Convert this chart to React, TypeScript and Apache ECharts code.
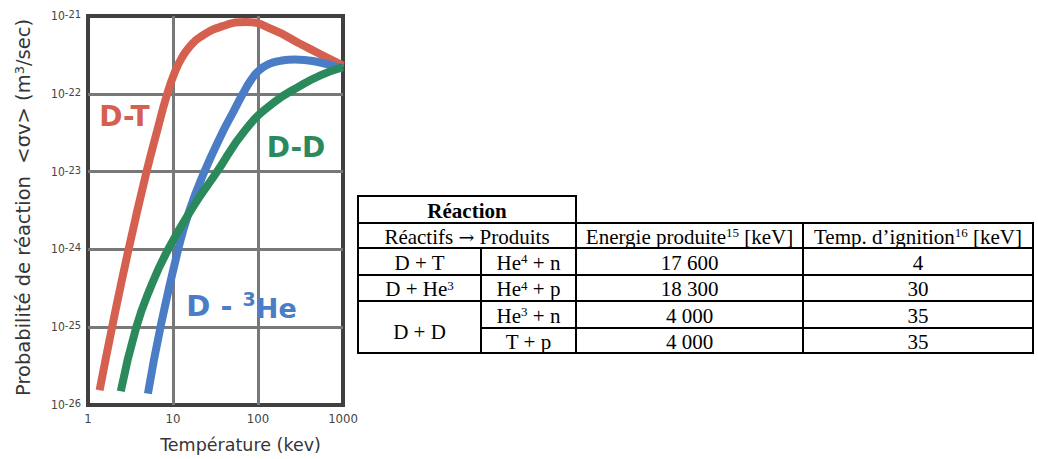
import React, { useEffect, useRef } from 'react';
import * as echarts from 'echarts';

// ---- Data ----
const dtX = [1.37, 1.92, 3.0, 4.81, 6.58, 8.55, 10.6, 12.8, 15.9, 21, 38.3, 72, 153, 312, 550, 1000];
const dtY = [1.55e-26, 1.0e-25, 1.0e-24, 9.3e-24, 3.5e-23, 1.0e-22, 1.95e-22, 2.95e-22, 4.1e-22, 5.4e-22, 7.4e-22, 8.4e-22, 6.6e-22, 4.4e-22, 3.2e-22, 2.3e-22];

const dheX = [5.07, 7.12, 11.5, 15.5, 22.8, 38.3, 51.8, 66.3, 82.6, 103, 133, 182, 270, 478, 1000];
const dheY = [1.4e-26, 1.0e-25, 1.0e-24, 3.1e-24, 9.3e-24, 3.2e-23, 6.0e-23, 1.0e-22, 1.5e-22, 2.0e-22, 2.4e-22, 2.65e-22, 2.77e-22, 2.6e-22, 2.1e-22];

const ddX = [2.43, 3.7, 5.48, 8.77, 18.3, 31.6, 72, 153, 312, 550, 1000];
const ddY = [1.5e-26, 1.0e-25, 3.3e-25, 1.0e-24, 3.9e-24, 9.3e-24, 3.5e-23, 7.7e-23, 1.26e-22, 1.74e-22, 2.2e-22];

const xMin = 1;
const xMax = 1000;
const yMin = 1e-26;
const yMax = 1e-21;

const curveLabels = [
  { text: 'D-T', x: 2.69, y: 5.1e-23, color: '#d6604f' },
  { text: 'D-D', x: 280, y: 2.04e-23, color: '#2a8a5c' },
  { text: '{a|D - }{s|3}{h|He}', x: 64, y: 1.9e-25, color: '#4a7dc6' },
];

// Table content
const headReaction = 'Réaction';
const headReactProd = 'Réactifs {arr|→} Produits';
const headEnergie = 'Energie produite{s|15} [keV]';
const headIgnition = 'Temp. d’ignition{s|16} [keV]';
const reactifs = ['D + T', 'D + He{s|3}', 'D + D'];
const produits = ['He{s|4} + n', 'He{s|4} + p', 'He{s|3} + n', 'T + p'];
const energie = ['17 600', '18 300', '4 000', '4 000'];
const ignition = ['4', '30', '35', '35'];

const RED = '#d6604f';
const BLUE = '#4a7dc6';
const GREEN = '#2a8a5c';

// ECharts rounds to 20 decimals, so the y values are plotted in units of 1e-26
const Y_UNIT = 1e-26;
const Y_UNIT_EXP = -26;

function zip(xs: number[], ys: number[]) {
  return xs.map((x, i) => [x, ys[i] / Y_UNIT]);
}

function buildTable() {
  const L = 358, C1 = 481, C2 = 576, C3 = 803, R = 1033;
  const Y = [196, 223, 248, 275, 301, 328, 353];
  const els: any[] = [];
  const line = (x1: number, y1: number, x2: number, y2: number) =>
    els.push({ type: 'line', shape: { x1, y1, x2, y2 }, style: { stroke: '#000', lineWidth: 2 }, z: 10 });
  line(L - 1, Y[0], C2 + 1, Y[0]);
  for (let i = 1; i <= 4; i++) line(L - 1, Y[i], R + 1, Y[i]);
  line(C1, Y[5], R + 1, Y[5]);
  line(L - 1, Y[6], R + 1, Y[6]);
  line(L, Y[0], L, Y[6]);
  line(C2, Y[0], C2, Y[6]);
  line(R, Y[1], R, Y[6]);
  line(C3, Y[1], C3, Y[6]);
  line(C1, Y[2], C1, Y[6]);

  const FONT = 'Liberation Serif';
  const rich = {
    s: { fontSize: 13, verticalAlign: 'top', lineHeight: 13, fontFamily: FONT },
    arr: { fontSize: 19, fontFamily: 'DejaVu Serif', lineHeight: 22 },
  };
  const txt = (text: string, x: number, y: number, bold = false) =>
    els.push({
      type: 'text', x, y, z: 11,
      style: {
        text, fontSize: 21, fontFamily: FONT, fontWeight: bold ? 'bold' : 'normal',
        fill: '#000', align: 'center', verticalAlign: 'middle', rich,
      },
    });
  const mid = (a: number, b: number) => (a + b) / 2;
  txt(headReaction, mid(L, C2), mid(Y[0], Y[1]) + 1, true);
  txt(headReactProd, mid(L, C2), mid(Y[1], Y[2]) + 1);
  txt(headEnergie, mid(C2, C3), mid(Y[1], Y[2]) + 1);
  txt(headIgnition, mid(C3, R), mid(Y[1], Y[2]) + 1);
  txt(reactifs[0], mid(L, C1), mid(Y[2], Y[3]) + 1);
  txt(reactifs[1], mid(L, C1), mid(Y[3], Y[4]) + 1);
  txt(reactifs[2], mid(L, C1), mid(Y[4], Y[6]) + 5);
  for (let i = 0; i < 4; i++) {
    const yc = mid(Y[2 + i], Y[3 + i]) + 1;
    txt(produits[i], mid(C1, C2), yc);
    txt(energie[i], mid(C2, C3), yc);
    txt(ignition[i], mid(C3, R), yc);
  }
  return els;
}

export default function App() {
  const ref = useRef<HTMLDivElement>(null);
  useEffect(() => {
    if (!ref.current) return;
    const chart = echarts.init(ref.current, null, { renderer: 'svg' });
    const TXT = '#353535';
    const option: any = {
      animation: false,
      backgroundColor: '#ffffff',
      grid: {
        left: 88, top: 16, width: 255, height: 396,
        show: true, borderColor: '#404040', borderWidth: 4, backgroundColor: 'transparent',
      },
      xAxis: {
        type: 'log', logBase: 10, min: xMin, max: xMax,
        axisLine: { show: false }, axisTick: { show: false },
        splitLine: { show: true, showMinLine: false, showMaxLine: false, lineStyle: { color: '#787878', width: 3 } },
        axisLabel: { color: '#444', fontSize: 13, fontFamily: 'DejaVu Sans Condensed', margin: 7, formatter: (v: number) => String(v) },
        name: 'Température (kev)', nameLocation: 'middle', nameGap: 31,
        nameTextStyle: { color: TXT, fontSize: 17.5, fontFamily: 'DejaVu Sans', padding: [0, 0, 0, 50] },
      },
      yAxis: {
        type: 'log', logBase: 10, min: yMin / Y_UNIT, max: yMax / Y_UNIT,
        axisLine: { show: false }, axisTick: { show: false },
        splitLine: { show: true, showMinLine: false, showMaxLine: false, lineStyle: { color: '#787878', width: 3 } },
        axisLabel: {
          margin: 7,
          formatter: (v: number) => `{b|10}{e|${Math.round(Math.log10(v)) + Y_UNIT_EXP}}`,
          rich: {
            b: { fontSize: 12, color: '#444', fontFamily: 'DejaVu Sans Condensed', lineHeight: 14 },
            e: { fontSize: 11, color: '#444', fontFamily: 'DejaVu Sans Condensed', verticalAlign: 'top', lineHeight: 11 },
          },
        },
        name: 'Probabilité de réaction  <σv> (m{s|3}/sec)', nameLocation: 'middle', nameRotate: 90, nameGap: 55,
        nameTextStyle: {
          color: TXT, fontSize: 19.5, fontFamily: 'DejaVu Sans', padding: [0, 0, 0, 6],
          rich: { s: { fontSize: 13, color: TXT, fontFamily: 'DejaVu Sans', verticalAlign: 'top', lineHeight: 13 } },
        },
      },
      series: [
        { name: 'D-T', type: 'line', data: zip(dtX, dtY), smooth: 0.5, symbol: 'none', lineStyle: { color: RED, width: 8 } },
        { name: 'D-3He', type: 'line', data: zip(dheX, dheY), smooth: 0.5, symbol: 'none', lineStyle: { color: BLUE, width: 8 } },
        { name: 'D-D', type: 'line', data: zip(ddX, ddY), smooth: 0.5, symbol: 'none', lineStyle: { color: GREEN, width: 8 } },
      ],
    };
    chart.setOption(option);
    const labelEls = curveLabels.map((l) => {
      const p = chart.convertToPixel({ gridIndex: 0 }, [l.x, l.y / Y_UNIT]) as number[];
      return {
        type: 'text', x: p[0], y: p[1], z: 20,
        style: {
          text: l.text, fill: l.color, fontSize: 28, fontWeight: 'bold', fontFamily: 'DejaVu Sans',
          align: 'center', verticalAlign: 'middle',
          rich: {
            a: { fontSize: 29, fontWeight: 'bold', fill: l.color, fontFamily: 'DejaVu Sans', lineHeight: 32 },
            s: { fontSize: 19, fontWeight: 'bold', fill: l.color, fontFamily: 'DejaVu Sans', verticalAlign: 'top', lineHeight: 20 },
            h: { fontSize: 27, fontWeight: 'bold', fill: l.color, fontFamily: 'DejaVu Sans', verticalAlign: 'bottom', lineHeight: 29 },
          },
        },
      };
    });
    chart.setOption({ graphic: [...buildTable(), ...labelEls] });
    return () => chart.dispose();
  }, []);
  return <div ref={ref} style={{ position: 'fixed', left: 0, top: 0, width: 1038, height: 459, background: '#fff' }} />;
}
